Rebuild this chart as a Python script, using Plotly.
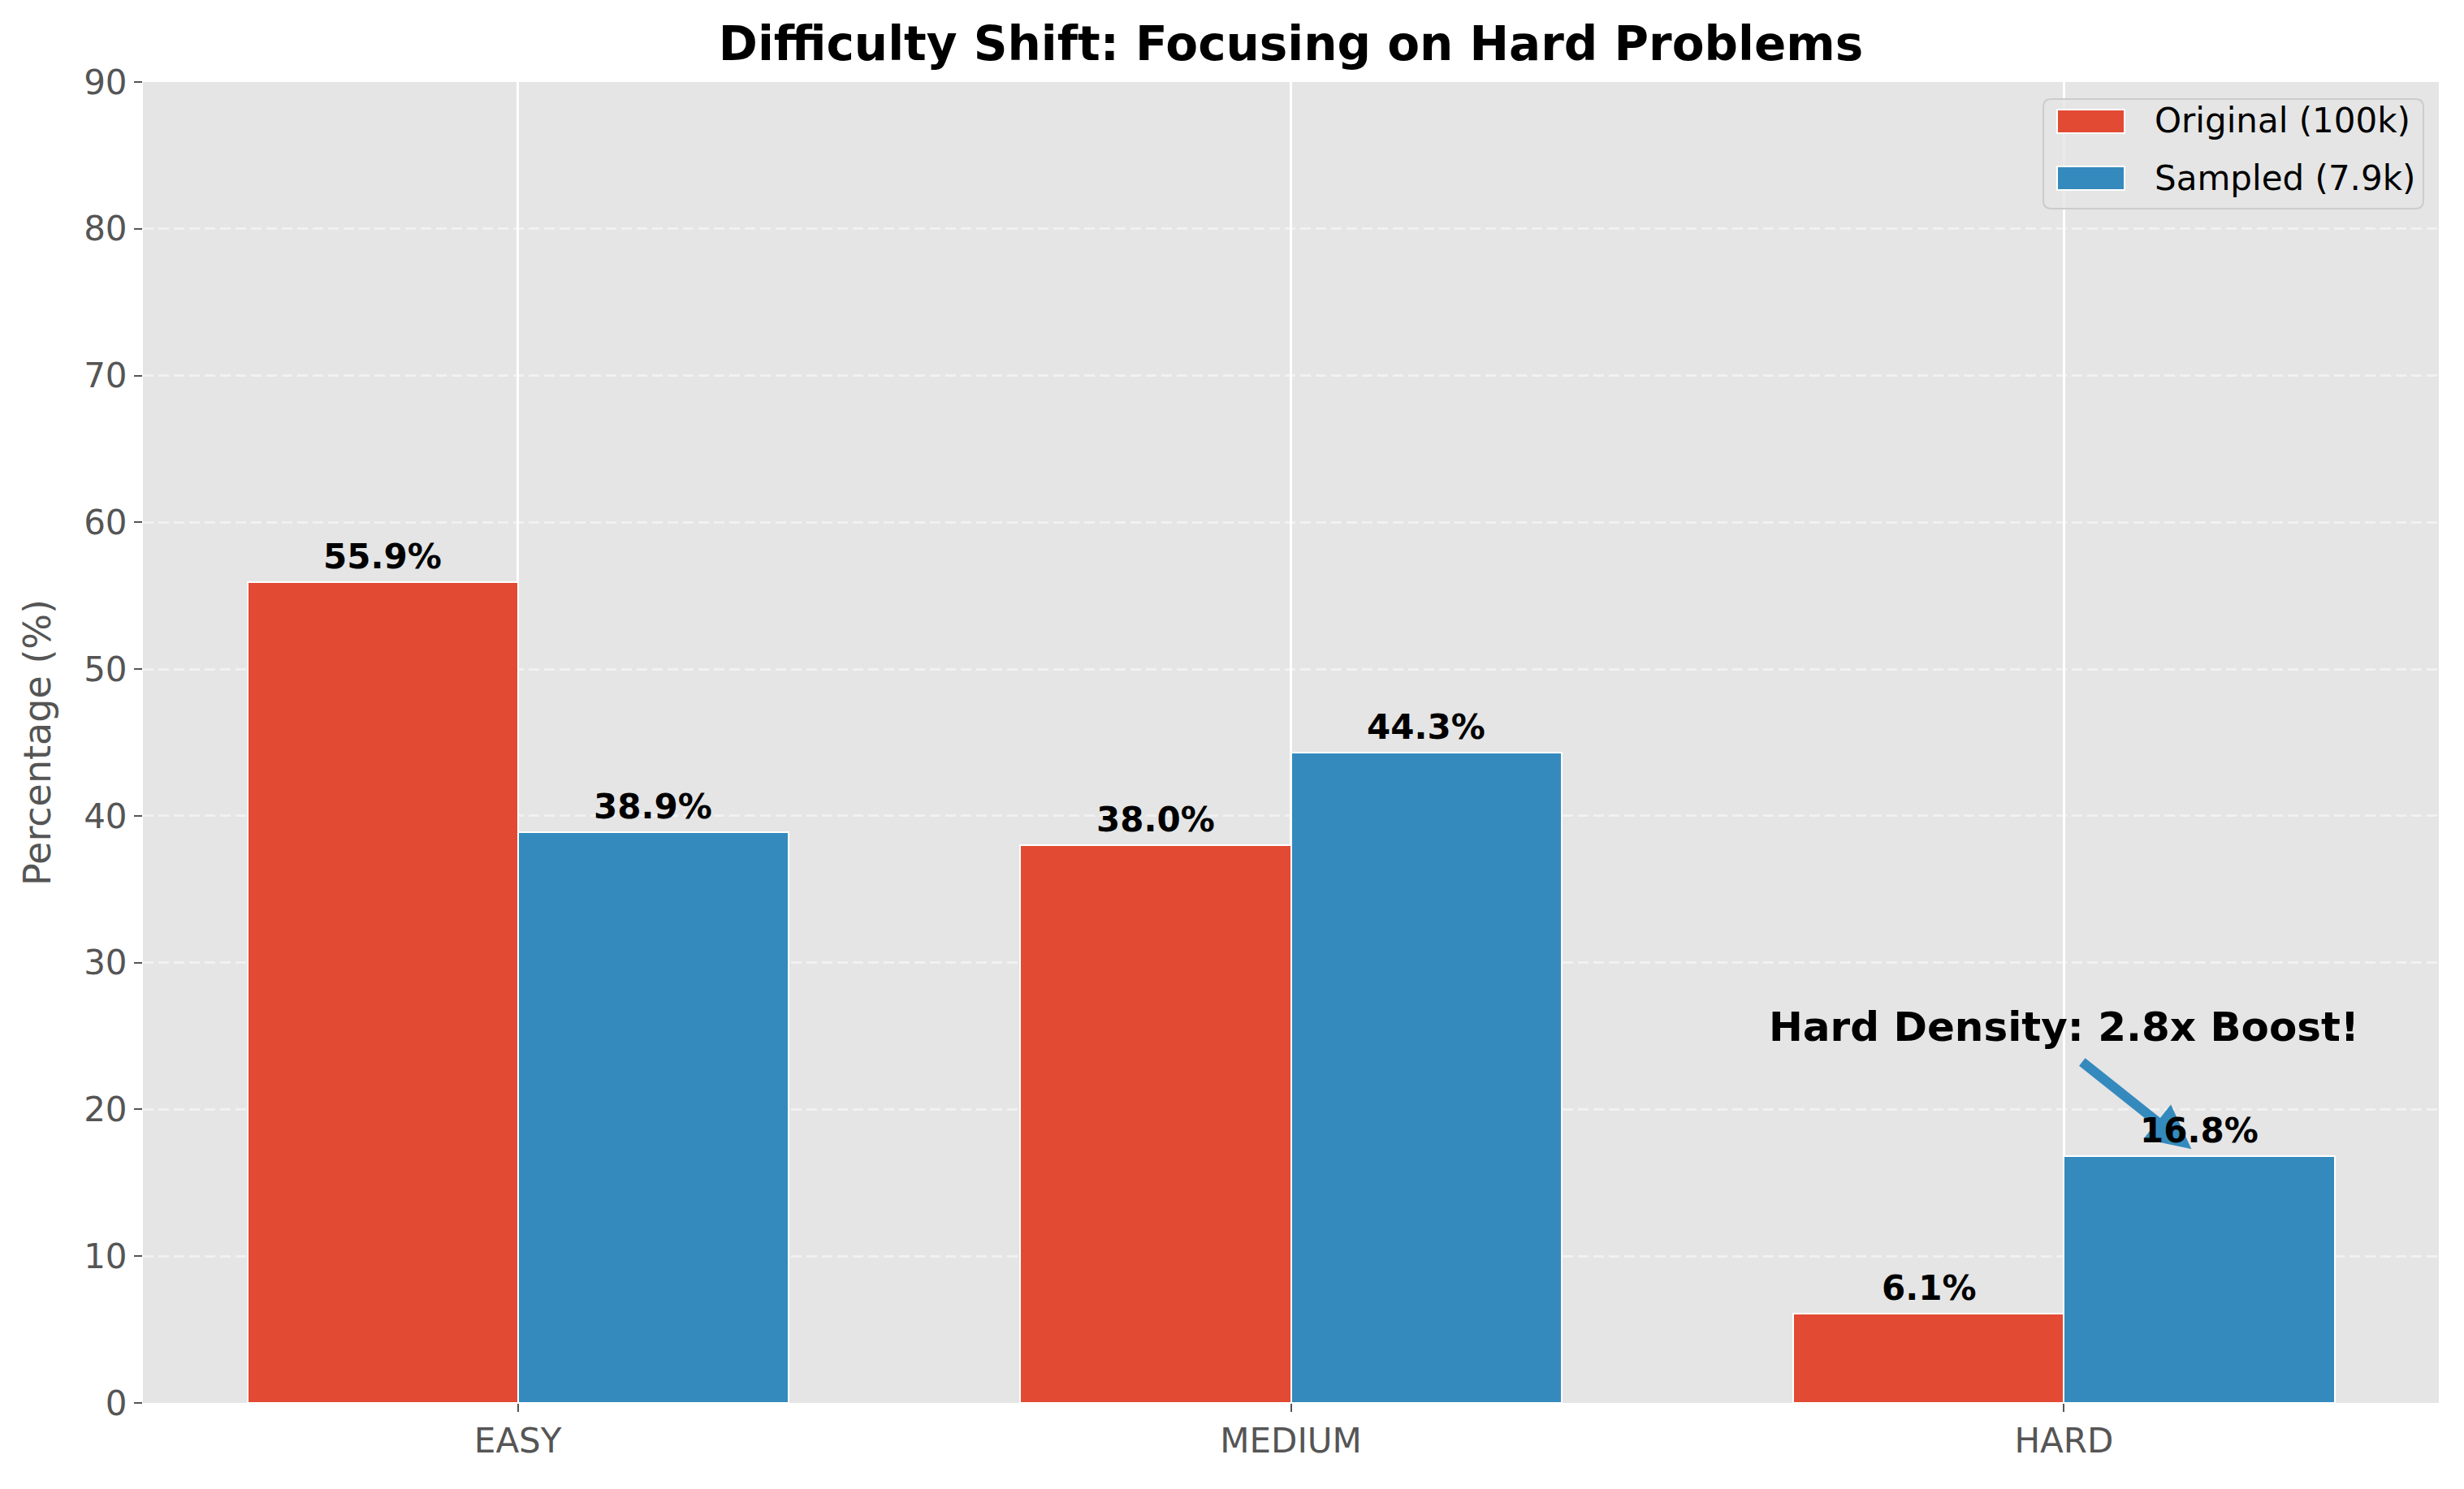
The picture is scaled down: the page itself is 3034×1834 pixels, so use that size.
import plotly.graph_objects as go

categories = ["EASY", "MEDIUM", "HARD"]
original_pct = [55.9, 38.0, 6.1]
sampled_pct = [38.9, 44.3, 16.8]
series_names = ["Original (100k)", "Sampled (7.9k)"]
y_ticks = [0, 10, 20, 30, 40, 50, 60, 70, 80, 90]
annotation_text = "Hard Density: 2.8x Boost!"
title_text = "Difficulty Shift: Focusing on Hard Problems"

RED = "#E24A33"
BLUE = "#348ABD"
COLORS = [RED, BLUE]
W = 0.35
FONT = "DejaVu Sans"

FIG_W, FIG_H = 3034, 1834
ML, MR, MT, MB = 176, 31, 101, 106
PW = FIG_W - ML - MR
PH = FIG_H - MT - MB


def fx(px):
    return (px - ML) / PW


def fy(py):
    return (FIG_H - MB - py) / PH


idx = list(range(len(categories)))
x_orig = [i - W / 2 for i in idx]
x_samp = [i + W / 2 for i in idx]

fig = go.Figure()
fig.add_trace(go.Bar(x=x_orig, y=original_pct, width=W, name=series_names[0],
                     marker=dict(color=RED, line=dict(color="white", width=2)),
                     showlegend=False))
fig.add_trace(go.Bar(x=x_samp, y=sampled_pct, width=W, name=series_names[1],
                     marker=dict(color=BLUE, line=dict(color="white", width=2)),
                     showlegend=False))

annotations = []
hard_i = categories.index("HARD")
annotations.append(dict(
    x=x_samp[hard_i] - 0.01, y=sampled_pct[hard_i] + 0.5, xref="x", yref="y",
    ax=hard_i + 0.022, ay=sampled_pct[hard_i] + 6.5, axref="x", ayref="y",
    text="", showarrow=True, arrowhead=2, arrowsize=0.9, arrowwidth=12,
    arrowcolor=BLUE))
annotations.append(dict(
    x=hard_i, y=sampled_pct[hard_i] + 8.8, xref="x", yref="y",
    text=annotation_text, showarrow=False, yanchor="middle", xanchor="center",
    font=dict(family=FONT, size=50, color="black", weight="bold")))

for xs, vals in ((x_orig, original_pct), (x_samp, sampled_pct)):
    for xv, v in zip(xs, vals):
        annotations.append(dict(
            x=xv, y=v + 0.5, xref="x", yref="y", text=f"{v:.1f}%",
            showarrow=False, yanchor="bottom", xanchor="center", yshift=-4,
            font=dict(family=FONT, size=42, color="black", weight="bold")))

# manual legend (matplotlib-style wide swatches)
shapes = []
bx0, bx1, by0, by1 = fx(2516), fx(2984), fy(122), fy(257)
rx, ry = 10 / PW, 10 / PH
path = (f"M {bx0 + rx},{by0} L {bx1 - rx},{by0} Q {bx1},{by0} {bx1},{by0 - ry} "
        f"L {bx1},{by1 + ry} Q {bx1},{by1} {bx1 - rx},{by1} "
        f"L {bx0 + rx},{by1} Q {bx0},{by1} {bx0},{by1 + ry} "
        f"L {bx0},{by0 - ry} Q {bx0},{by0} {bx0 + rx},{by0} Z")
shapes.append(dict(type="path", path=path, xref="paper", yref="paper",
                   fillcolor="rgba(229,229,229,0.8)",
                   line=dict(color="#CCCCCC", width=2), layer="above"))
swatch_rows = [(135, 164, 149), (205, 234, 219)]
for (s0, s1, tc), name, col in zip(swatch_rows, series_names, COLORS):
    shapes.append(dict(type="rect", xref="paper", yref="paper",
                       x0=fx(2533), x1=fx(2616), y0=fy(s0), y1=fy(s1),
                       fillcolor=col, line=dict(color="white", width=2),
                       layer="above"))
    annotations.append(dict(x=fx(2651), y=fy(tc), xref="paper", yref="paper",
                            text=name, showarrow=False, xanchor="left",
                            yanchor="middle",
                            font=dict(family=FONT, size=42, color="black")))

fig.update_layout(
    width=FIG_W, height=FIG_H,
    margin=dict(l=ML, r=MR, t=MT, b=MB, autoexpand=False),
    paper_bgcolor="white", plot_bgcolor="#E5E5E5",
    font=dict(family=FONT, size=42, color="#555555"),
    title=dict(text=title_text, x=(ML + PW / 2) / FIG_W, xanchor="center",
               y=1 - 54 / FIG_H, yanchor="middle",
               font=dict(family=FONT, size=58, color="black", weight="bold")),
    barmode="overlay",
    bargap=0,
    showlegend=False,
    annotations=annotations,
    shapes=shapes,
)

fig.update_xaxes(
    range=[-0.485, 2.485], tickmode="array", tickvals=idx, ticktext=categories,
    showgrid=True, gridcolor="white", gridwidth=3,
    ticks="outside", ticklen=10, tickwidth=2, tickcolor="#555555",
    tickfont=dict(family=FONT, size=42, color="#555555"),
    zeroline=False, showline=False, automargin=False,
)
fig.update_yaxes(
    range=[0, 90], tickmode="array", tickvals=y_ticks,
    showgrid=True, gridcolor="rgba(255,255,255,0.45)", gridwidth=3,
    griddash="13px,6px",
    ticks="outside", ticklen=10, tickwidth=2, tickcolor="#555555",
    tickfont=dict(family=FONT, size=42, color="#555555"),
    title=dict(text="Percentage (%)", standoff=26,
               font=dict(family=FONT, size=46, color="#555555")),
    zeroline=False, showline=False, automargin=False,
)

fig.write_html("out.html", config={"displayModeBar": False},
               post_script="document.body.style.margin='0px';")
